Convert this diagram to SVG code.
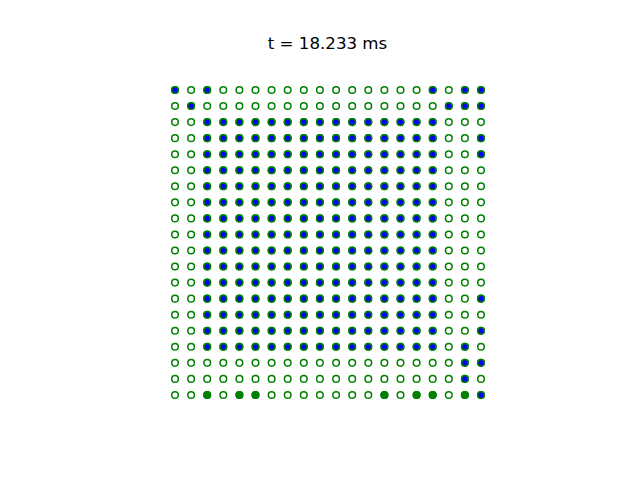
<svg xmlns="http://www.w3.org/2000/svg" xmlns:xlink="http://www.w3.org/1999/xlink" width="640" height="480" viewBox="0 0 640 480">
<style>
.e{fill:#ffffff;stroke:#008000;stroke-width:1.5}
.b{fill:#0000ff;stroke:#008000;stroke-width:1.5}
.g{fill:#008000;stroke:#008000;stroke-width:1.5}
.title{font-family:"DejaVu Sans",sans-serif;font-size:16.67px;fill:#000}
</style>
<defs>
<g id="erow">
<circle class="e" cx="175" cy="0" r="3.3"/><circle class="e" cx="191.1" cy="0" r="3.3"/><circle class="e" cx="207.2" cy="0" r="3.3"/><circle class="e" cx="223.3" cy="0" r="3.3"/><circle class="e" cx="239.4" cy="0" r="3.3"/><circle class="e" cx="255.5" cy="0" r="3.3"/><circle class="e" cx="271.6" cy="0" r="3.3"/><circle class="e" cx="287.7" cy="0" r="3.3"/><circle class="e" cx="303.8" cy="0" r="3.3"/><circle class="e" cx="319.9" cy="0" r="3.3"/><circle class="e" cx="336.1" cy="0" r="3.3"/><circle class="e" cx="352.2" cy="0" r="3.3"/><circle class="e" cx="368.3" cy="0" r="3.3"/><circle class="e" cx="384.4" cy="0" r="3.3"/><circle class="e" cx="400.5" cy="0" r="3.3"/><circle class="e" cx="416.6" cy="0" r="3.3"/><circle class="e" cx="432.7" cy="0" r="3.3"/><circle class="e" cx="448.8" cy="0" r="3.3"/><circle class="e" cx="464.9" cy="0" r="3.3"/><circle class="e" cx="481" cy="0" r="3.3"/>
</g>
<g id="brow">
<circle class="b" cx="207.2" cy="0" r="3.3"/><circle class="b" cx="223.3" cy="0" r="3.3"/><circle class="b" cx="239.4" cy="0" r="3.3"/><circle class="b" cx="255.5" cy="0" r="3.3"/><circle class="b" cx="271.6" cy="0" r="3.3"/><circle class="b" cx="287.7" cy="0" r="3.3"/><circle class="b" cx="303.8" cy="0" r="3.3"/><circle class="b" cx="319.9" cy="0" r="3.3"/><circle class="b" cx="336.1" cy="0" r="3.3"/><circle class="b" cx="352.2" cy="0" r="3.3"/><circle class="b" cx="368.3" cy="0" r="3.3"/><circle class="b" cx="384.4" cy="0" r="3.3"/><circle class="b" cx="400.5" cy="0" r="3.3"/><circle class="b" cx="416.6" cy="0" r="3.3"/><circle class="b" cx="432.7" cy="0" r="3.3"/>
</g>
</defs>
<rect width="640" height="480" fill="#ffffff"/>
<text class="title" x="327.5" y="49" text-anchor="middle">t = 18.233 ms</text>
<g id="empty-grid">
<use xlink:href="#erow" y="90"/><use xlink:href="#erow" y="106.05"/><use xlink:href="#erow" y="122.1"/><use xlink:href="#erow" y="138.15"/><use xlink:href="#erow" y="154.2"/><use xlink:href="#erow" y="170.25"/><use xlink:href="#erow" y="186.3"/><use xlink:href="#erow" y="202.35"/><use xlink:href="#erow" y="218.4"/><use xlink:href="#erow" y="234.45"/><use xlink:href="#erow" y="250.5"/><use xlink:href="#erow" y="266.55"/><use xlink:href="#erow" y="282.6"/><use xlink:href="#erow" y="298.65"/><use xlink:href="#erow" y="314.7"/><use xlink:href="#erow" y="330.75"/><use xlink:href="#erow" y="346.8"/><use xlink:href="#erow" y="362.85"/><use xlink:href="#erow" y="378.9"/><use xlink:href="#erow" y="395"/>
</g>
<g id="blue-block">
<use xlink:href="#brow" y="122.1"/><use xlink:href="#brow" y="138.15"/><use xlink:href="#brow" y="154.2"/><use xlink:href="#brow" y="170.25"/><use xlink:href="#brow" y="186.3"/><use xlink:href="#brow" y="202.35"/><use xlink:href="#brow" y="218.4"/><use xlink:href="#brow" y="234.45"/><use xlink:href="#brow" y="250.5"/><use xlink:href="#brow" y="266.55"/><use xlink:href="#brow" y="282.6"/><use xlink:href="#brow" y="298.65"/><use xlink:href="#brow" y="314.7"/><use xlink:href="#brow" y="330.75"/><use xlink:href="#brow" y="346.8"/>
</g>
<g id="extra">
<circle class="b" cx="175" cy="90" r="3.3"/><circle class="b" cx="207.2" cy="90" r="3.3"/><circle class="b" cx="432.7" cy="90" r="3.3"/><circle class="b" cx="464.9" cy="90" r="3.3"/><circle class="b" cx="481" cy="90" r="3.3"/>
<circle class="b" cx="191.1" cy="106.05" r="3.3"/><circle class="b" cx="448.8" cy="106.05" r="3.3"/><circle class="b" cx="464.9" cy="106.05" r="3.3"/><circle class="b" cx="481" cy="106.05" r="3.3"/>
<circle class="b" cx="481" cy="138.15" r="3.3"/><circle class="b" cx="481" cy="154.2" r="3.3"/>
<circle class="b" cx="481" cy="298.65" r="3.3"/><circle class="b" cx="481" cy="330.75" r="3.3"/>
<circle class="b" cx="464.9" cy="346.8" r="3.3"/>
<circle class="b" cx="464.9" cy="362.85" r="3.3"/><circle class="b" cx="481" cy="362.85" r="3.3"/>
<circle class="b" cx="464.9" cy="378.9" r="3.3"/>
<circle class="g" cx="207.2" cy="395" r="3.3"/><circle class="g" cx="239.4" cy="395" r="3.3"/><circle class="g" cx="255.5" cy="395" r="3.3"/><circle class="g" cx="384.4" cy="395" r="3.3"/><circle class="g" cx="416.6" cy="395" r="3.3"/><circle class="g" cx="432.7" cy="395" r="3.3"/><circle class="g" cx="464.9" cy="395" r="3.3"/><circle class="b" cx="481" cy="395" r="3.3"/>
</g>
</svg>
